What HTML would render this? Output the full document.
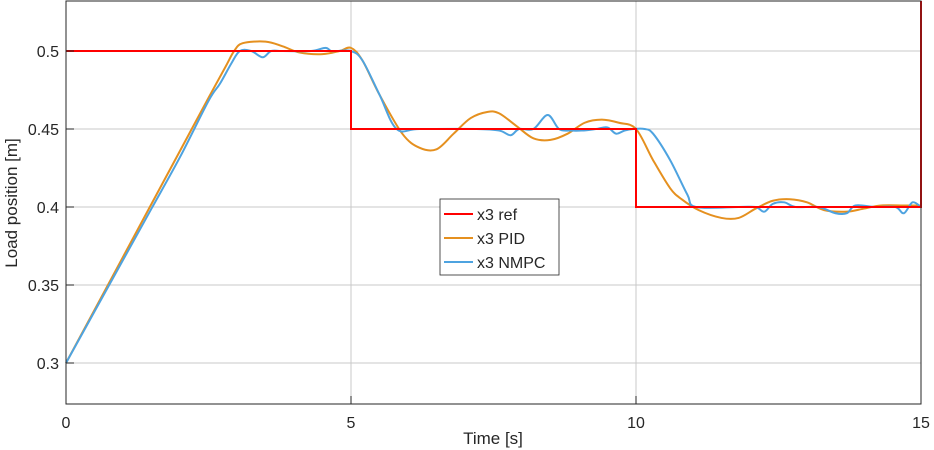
<!DOCTYPE html>
<html><head><meta charset="utf-8"><style>
body{margin:0;background:#fff}
svg{display:block;font-family:"Liberation Sans",sans-serif}
</style></head><body>
<svg id="chart" width="934" height="450" viewBox="0 0 934 450">
<rect x="66" y="1" width="855" height="403" fill="#fff"/>
<g id="grid"></g>
<g id="series"></g>
<rect x="66" y="1" width="855" height="403" fill="none" stroke="#262626" stroke-width="1"/>
<g id="ticks"></g>
<text x="493" y="444" font-size="17" text-anchor="middle" fill="#262626">Time [s]</text>
<text transform="translate(17,203) rotate(-90)" font-size="17" text-anchor="middle" fill="#262626">Load position [m]</text>
<g>
<rect x="440" y="199" width="119" height="76" fill="#fff" stroke="#262626" stroke-width="0.8"/>
<line x1="444" y1="214" x2="473" y2="214" stroke="#ff0000" stroke-width="2"/>
<text x="477" y="220" font-size="16" fill="#262626">x3 ref</text>
<line x1="444" y1="238" x2="473" y2="238" stroke="#e5901f" stroke-width="2"/>
<text x="477" y="244" font-size="16" fill="#262626">x3 PID</text>
<line x1="444" y1="262" x2="473" y2="262" stroke="#4ea3e0" stroke-width="2"/>
<text x="477" y="268" font-size="16" fill="#262626">x3 NMPC</text>
</g>
</svg>
<script>
const xTicks=[0,5,10,15];
const yTicks=[0.3,0.35,0.4,0.45,0.5];
const yTickLabels=["0.3","0.35","0.4","0.45","0.5"];
const refT=[0,5,5,10,10,15,15];
const refV=[0.5,0.5,0.45,0.45,0.4,0.4,0.535];
const pidT=[0,0.5,1,1.5,2,2.5,2.8,2.95,3.1,3.5,3.8,4.1,4.5,4.8,5.0,5.2,5.5,5.9,6.2,6.5,6.8,7.1,7.4,7.6,7.9,8.2,8.5,8.8,9.1,9.4,9.7,10.0,10.3,10.6,10.8,11.1,11.5,11.8,12.1,12.4,12.7,13.0,13.3,13.7,14.0,14.3,14.7,15];
const pidV=[0.3,0.334,0.368,0.402,0.436,0.47,0.49,0.5,0.505,0.506,0.503,0.499,0.498,0.5,0.502,0.494,0.472,0.447,0.438,0.437,0.447,0.457,0.461,0.46,0.452,0.444,0.443,0.447,0.454,0.456,0.454,0.45,0.43,0.412,0.405,0.398,0.393,0.393,0.399,0.404,0.405,0.403,0.398,0.397,0.399,0.401,0.401,0.401];
const nmpcT=[0,0.5,1,1.5,2,2.5,2.7,2.9,3.05,3.25,3.45,3.6,3.8,4.3,4.55,4.65,4.75,5.0,5.2,5.5,5.8,6.2,7.2,7.6,7.8,7.95,8.2,8.45,8.65,8.85,9.05,9.3,9.5,9.65,9.8,9.95,10.15,10.3,10.6,10.9,11.05,11.8,12.1,12.25,12.4,12.6,12.8,13.2,13.5,13.7,13.85,14.2,14.55,14.7,14.85,15];
const nmpcV=[0.3,0.333,0.366,0.399,0.432,0.468,0.479,0.492,0.5,0.5,0.496,0.5,0.5,0.5,0.502,0.5,0.5,0.5,0.494,0.472,0.45,0.45,0.45,0.449,0.446,0.45,0.45,0.459,0.45,0.449,0.449,0.45,0.451,0.447,0.449,0.45,0.45,0.447,0.43,0.408,0.4,0.4,0.4,0.397,0.402,0.403,0.4,0.4,0.396,0.396,0.401,0.4,0.4,0.396,0.403,0.4];
const X0=66,X1=921;
function sx(t){return X0+(t-0)/(15-0)*(X1-X0);}
function sy(v){return 51+(0.5-v)*1560;}
const NS="http://www.w3.org/2000/svg";
function mk(tag,attrs,parent){const e=document.createElementNS(NS,tag);for(const k in attrs)e.setAttribute(k,attrs[k]);parent.appendChild(e);return e;}
const grid=document.getElementById('grid'),ticks=document.getElementById('ticks'),ser=document.getElementById('series');
xTicks.forEach((t,i)=>{
  const x=sx(t);
  if(i>0&&i<xTicks.length-1){const g=mk('line',{x1:x,y1:1,x2:x,y2:404,stroke:'#c8c8c8','stroke-width':1},grid);
  
  }
  const tk=mk('line',{x1:x,y1:404,x2:x,y2:396,stroke:'#262626'},ticks);
  
  
  const tx=mk('text',{x:x,y:428,'font-size':16,'text-anchor':'middle',fill:'#262626'},ticks);tx.textContent=String(t);
  
  
});
yTicks.forEach((v,i)=>{
  const y=sy(v);
  const g=mk('line',{x1:66,y1:y,x2:921,y2:y,stroke:'#c8c8c8','stroke-width':1},grid);
  
  
  const tk=mk('line',{x1:66,y1:y,x2:74,y2:y,stroke:'#262626'},ticks);
  
  
  const tx=mk('text',{x:59,y:y+6,'font-size':16,'text-anchor':'end',fill:'#262626'},ticks);tx.textContent=yTickLabels[i];
  
  
});
function smooth(T,V){
  const p=T.map((t,i)=>[sx(t),sy(V[i])]);
  let d='M'+p[0][0]+','+p[0][1];
  for(let i=0;i<p.length-1;i++){
    const a=p[i-1]||p[i],b=p[i],c=p[i+1],e=p[i+2]||c;
    const c1=[b[0]+(c[0]-a[0])/6,b[1]+(c[1]-a[1])/6],c2=[c[0]-(e[0]-b[0])/6,c[1]-(e[1]-b[1])/6];
    d+=' C'+c1[0]+','+c1[1]+' '+c2[0]+','+c2[1]+' '+c[0]+','+c[1];
  }
  return d;
}
const pid=mk('path',{d:smooth(pidT,pidV),fill:'none',stroke:'#e5901f','stroke-width':2},ser);


const nm=mk('path',{d:smooth(nmpcT,nmpcV),fill:'none',stroke:'#4ea3e0','stroke-width':2},ser);


const ref=mk('polyline',{points:refT.map((t,i)=>sx(t)+','+Math.max(1,sy(refV[i]))).join(' '),fill:'none',stroke:'#ff0000','stroke-width':2},ser);


</script>
</body></html>
